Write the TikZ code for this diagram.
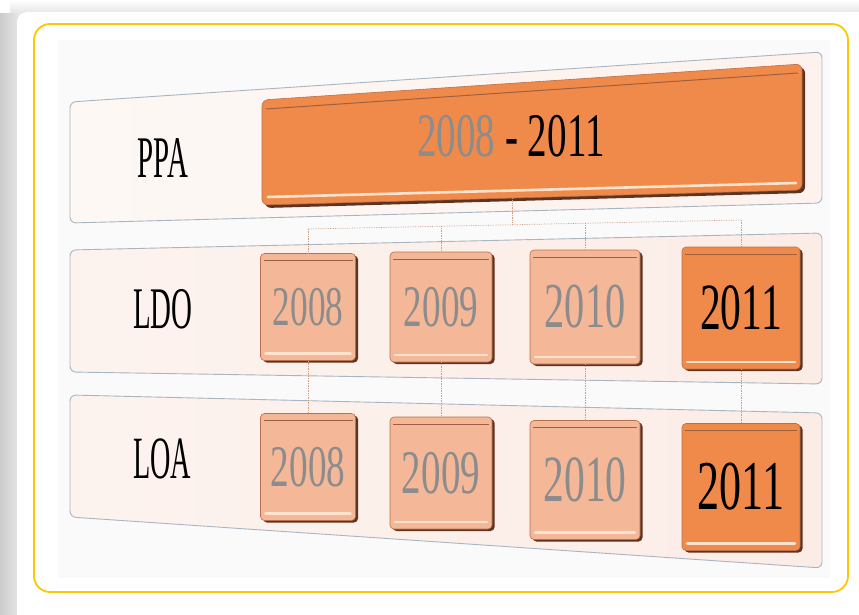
\documentclass[tikz,border=0pt]{standalone}
\usepackage{fontspec}
\setmainfont{Liberation Serif}
\usetikzlibrary{shadows}
\definecolor{frameyellow}{HTML}{FDC800}
\definecolor{bandedge}{HTML}{A9B5C0}
\definecolor{bandfill}{HTML}{FCECE6}
\definecolor{bandlight}{HTML}{FDF8F4}
\definecolor{boxdark}{HTML}{F08A4B}
\definecolor{boxlight}{HTML}{F4B899}
\definecolor{boxedge}{HTML}{B8714C}
\definecolor{boxshadow}{HTML}{5E3320}
\definecolor{hilite}{HTML}{FCE3CF}
\definecolor{txtgray}{HTML}{8C8C8C}
\definecolor{conn}{HTML}{CF9C84}
\newcommand\yrtxt[2]{\fontsize{#1}{#1}\selectfont\scalebox{0.63}[1]{#2}}
\newcommand\rowtxt[3]{\fontsize{#1}{#1}\selectfont\scalebox{#2}[1]{#3}}
\begin{document}
\begin{tikzpicture}[x=1pt,y=-1pt,
  band/.style={rounded corners=6pt, draw=bandedge, line width=0.9pt},
  yearbox/.style={rounded corners=4pt, draw=boxedge, line width=0.6pt, inner sep=0pt,
    general shadow={fill=boxshadow, shadow xshift=2.5pt, shadow yshift=-2pt},
    path picture={
      \draw[hilite, line width=2.6pt, line cap=round]
        ([xshift=5pt,yshift=7pt]path picture bounding box.south west) --
        ([xshift=-5pt,yshift=7pt]path picture bounding box.south east);
      \draw[boxedge!85!black, line width=0.9pt]
        ([xshift=3pt,yshift=-7pt]path picture bounding box.north west) --
        ([xshift=-3pt,yshift=-7pt]path picture bounding box.north east);
    }},
  lightbox/.style={yearbox, fill=boxlight, text=txtgray},
  darkbox/.style={yearbox, fill=boxdark, text=black},
  rowlabel/.style={inner sep=0pt, text=black},
  link/.style={draw=conn, line width=0.7pt, densely dotted}
]
\useasboundingbox (0,0) rectangle (859,615);
% page and card
\fill[white] (0,0) rectangle (859,615);
\shade[top color=white, bottom color=gray!22] (10,0) rectangle (859,14);
\shade[left color=gray!40, right color=gray!18] (0,14) rectangle (20,615);
\fill[white, rounded corners=10pt] (17,12) rectangle (900,660);
\fill[gray!4] (58,40) rectangle (830,578);
\draw[frameyellow, line width=1.8pt, rounded corners=16pt] (34,24) rectangle (848,592);

% bands
\shadedraw[band, left color=bandlight, right color=bandfill!70!white]
  (70,102) -- (822,52) -- (822,203) -- (70,223) -- cycle;
\shadedraw[band, left color=bandlight!60!bandfill, right color=bandfill]
  (70,250) -- (822,233) -- (822,384) -- (70,372) -- cycle;
\shadedraw[band, left color=bandlight!60!bandfill, right color=bandfill]
  (70,395) -- (822,413) -- (822,568) -- (70,517) -- cycle;

% PPA long box
\fill[boxshadow, rounded corners=6pt] (265,103) -- (805,67) -- (805,193) -- (265,208) -- cycle;
\fill[boxdark, rounded corners=6pt, draw=boxedge, line width=0.6pt]
  (262,100) -- (802,64) -- (802,190) -- (262,205) -- cycle;
\draw[boxedge!85!black, line width=1pt] (266,109) -- (798,73);
\draw[hilite, line width=2.6pt, line cap=round] (268,197) -- (796,183);
\node[rowlabel] (span) at (511,136)
  {\yrtxt{62}{\textcolor{txtgray}{2008} - 2011}};
\coordinate (ppabot) at (512,198);

% row labels
\node[rowlabel] (ppa) at (163,158) {\rowtxt{59}{0.49}{PPA}};
\node[rowlabel] (ldo) at (163,309) {\rowtxt{59}{0.49}{LDO}};
\node[rowlabel] (loa) at (162,459) {\rowtxt{60}{0.47}{LOA}};

% LDO boxes
\node[lightbox, minimum width=95pt, minimum height=107pt] (d1) at (308,307) {\yrtxt{56}{2008}};
\node[lightbox, minimum width=102pt, minimum height=110pt] (d2) at (441,307) {\yrtxt{59}{2009}};
\node[lightbox, minimum width=110pt, minimum height=114pt] (d3) at (585,307) {\yrtxt{64}{2010}};
\node[darkbox, minimum width=118pt, minimum height=122pt] (d4) at (741,308) {\yrtxt{66}{2011}};

% LOA boxes
\node[lightbox, minimum width=95pt, minimum height=107pt] (o1) at (308,467) {\yrtxt{59}{2008}};
\node[lightbox, minimum width=102pt, minimum height=112pt] (o2) at (441,473) {\yrtxt{62}{2009}};
\node[lightbox, minimum width=110pt, minimum height=119pt] (o3) at (585,480) {\yrtxt{66}{2010}};
\node[darkbox, minimum width=118pt, minimum height=127pt] (o4) at (741,487) {\yrtxt{70}{2011}};

% connectors
\coordinate (hub) at (512,224.8);
\coordinate (b1) at (308,229);
\coordinate (b2) at (441,226.2);
\coordinate (b3) at (585,223.2);
\coordinate (b4) at (741,220);
\draw[link] (ppabot) -- (hub);
\draw[link] (b1) -- (b4);
\draw[link] (b1) -- (d1.north);
\draw[link] (b2) -- (d2.north);
\draw[link] (b3) -- (d3.north);
\draw[link] (b4) -- (d4.north);
\draw[link] (d1.south) -- (o1.north);
\draw[link] (d2.south) -- (o2.north);
\draw[link] (d3.south) -- (o3.north);
\draw[link] (d4.south) -- (o4.north);
\end{tikzpicture}
\end{document}
